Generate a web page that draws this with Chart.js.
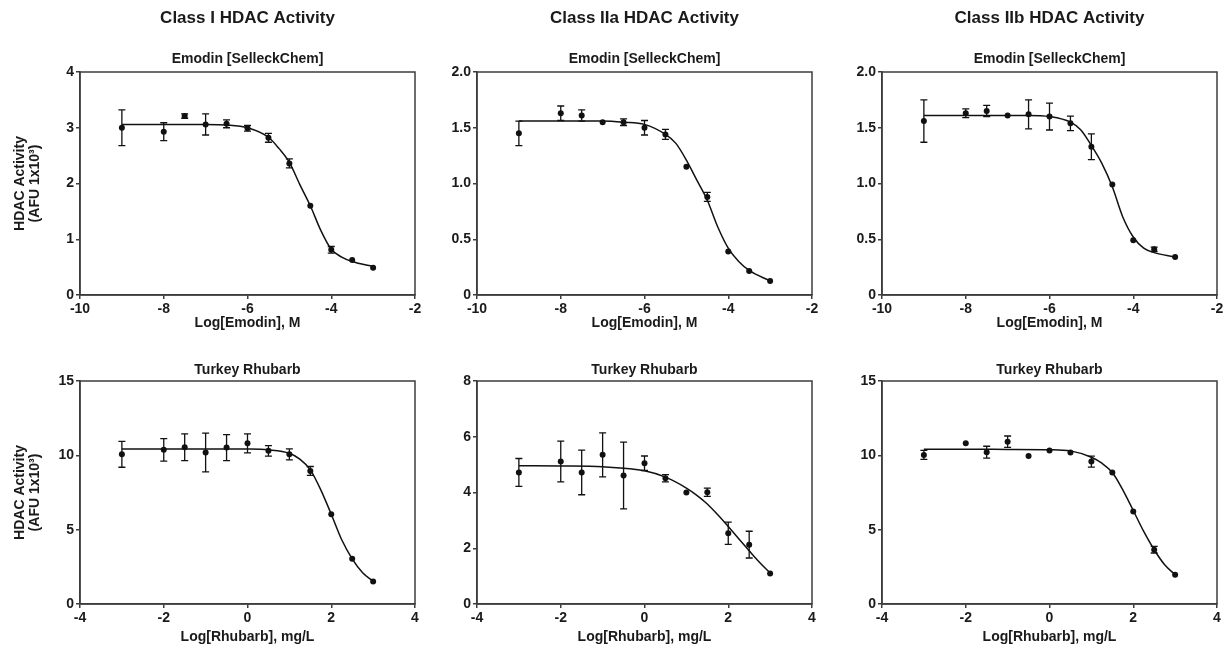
<!DOCTYPE html>
<html lang="en">
<head>
<meta charset="UTF-8">
<title>HDAC Activity</title>
<script src="https://cdn.jsdelivr.net/npm/chart.js"></script>
<style>
  body { margin: 0; background: #fff; }
  #wrap { position: relative; width: 1226px; height: 650px; overflow: hidden; }
  #wrap canvas { position: absolute; }
</style>
</head>
<body>
<div id="wrap">
  <canvas id="c00" width="430" height="340" style="left:0;top:0"></canvas>
  <canvas id="c01" width="420" height="340" style="left:410px;top:0"></canvas>
  <canvas id="c02" width="411" height="340" style="left:815px;top:0"></canvas>
  <canvas id="c10" width="430" height="310" style="left:0;top:340px"></canvas>
  <canvas id="c11" width="420" height="310" style="left:410px;top:340px"></canvas>
  <canvas id="c12" width="411" height="310" style="left:815px;top:340px"></canvas>
</div>

<script>
// texts
const colTitles = ["Class I HDAC Activity", "Class IIa HDAC Activity", "Class IIb HDAC Activity"];
const rowTitles = ["Emodin [SelleckChem]", "Turkey Rhubarb"];
const xTitles = ["Log[Emodin], M", "Log[Rhubarb], mg/L"];
const yTitle = ["HDAC Activity", "(AFU 1x10³)"];

// axis ranges
const xRanges = [[-10, -2], [-4, 4]];
const yMax = [[4, 2, 2], [15, 8, 15]];
const yStep = [[1, 0.5, 0.5], [5, 2, 5]];

// measured points (mean, SEM)
const xEmodin = [-9, -8, -7.5, -7, -6.5, -6, -5.5, -5, -4.5, -4, -3.5, -3];
const emodinI = [3.00, 2.93, 3.21, 3.06, 3.07, 2.99, 2.82, 2.36, 1.60, 0.81, 0.63, 0.49];
const emodinIErr = [0.32, 0.16, 0.04, 0.19, 0.07, 0.05, 0.08, 0.08, 0, 0.06, 0, 0];
const emodinIIa = [1.45, 1.63, 1.61, 1.55, 1.55, 1.50, 1.44, 1.15, 0.88, 0.39, 0.215, 0.125];
const emodinIIaErr = [0.11, 0.065, 0.05, 0, 0.03, 0.065, 0.045, 0, 0.04, 0, 0, 0];
const emodinIIb = [1.56, 1.63, 1.65, 1.61, 1.62, 1.60, 1.54, 1.33, 0.99, 0.49, 0.41, 0.34];
const emodinIIbErr = [0.19, 0.04, 0.05, 0, 0.13, 0.12, 0.065, 0.115, 0, 0, 0.02, 0];

const xRhubarb = [-3, -2, -1.5, -1, -0.5, 0, 0.5, 1, 1.5, 2, 2.5, 3];
const rhubarbI = [10.07, 10.37, 10.54, 10.19, 10.52, 10.81, 10.30, 10.07, 8.95, 6.04, 3.04, 1.52];
const rhubarbIErr = [0.87, 0.76, 0.9, 1.3, 0.87, 0.64, 0.35, 0.37, 0.3, 0, 0, 0];
const rhubarbIIa = [4.72, 5.11, 4.72, 5.35, 4.61, 5.05, 4.51, 4.00, 4.01, 2.54, 2.13, 1.09];
const rhubarbIIaErr = [0.5, 0.73, 0.8, 0.79, 1.2, 0.26, 0.13, 0, 0.15, 0.4, 0.48, 0];
const rhubarbIIb = [10.03, 10.81, 10.21, 10.92, 9.96, 10.32, 10.19, 9.58, 8.84, 6.22, 3.65, 1.97];
const rhubarbIIbErr = [0.3, 0, 0.4, 0.38, 0, 0, 0, 0.37, 0, 0, 0.22, 0];

// fitted curves
const xEmodinFit = [-9, -8, -7, -6.5, -6, -5.5, -5.25, -5, -4.75, -4.5, -4.25, -4, -3.75, -3.5, -3];
const fitEmodinI = [3.06, 3.06, 3.06, 3.05, 3.00, 2.83, 2.63, 2.38, 1.98, 1.60, 1.16, 0.82, 0.68, 0.60, 0.51];
const fitEmodinIIa = [1.56, 1.56, 1.56, 1.55, 1.53, 1.44, 1.36, 1.21, 1.03, 0.85, 0.61, 0.42, 0.30, 0.22, 0.125];
const fitEmodinIIb = [1.61, 1.61, 1.61, 1.61, 1.60, 1.55, 1.48, 1.34, 1.18, 0.97, 0.70, 0.52, 0.42, 0.38, 0.34];
const xRhubarbFit = [-3, -2, -1, 0, 0.5, 1, 1.25, 1.5, 1.75, 2, 2.25, 2.5, 2.75, 3];
const fitRhubarbI = [10.43, 10.43, 10.43, 10.42, 10.37, 10.14, 9.74, 9.02, 7.68, 6.04, 4.32, 3.04, 2.10, 1.52];
const fitRhubarbIIa = [4.96, 4.95, 4.92, 4.78, 4.55, 4.16, 3.90, 3.59, 3.20, 2.78, 2.34, 1.91, 1.49, 1.11];
const fitRhubarbIIb = [10.41, 10.41, 10.40, 10.38, 10.30, 9.87, 9.47, 8.84, 7.68, 6.29, 4.88, 3.65, 2.64, 1.97];

// layout per column / row
const yAxisWidth = [80, 67, 67];
const padRight = [15, 18, 9];
const xAxisHeight = [36.4, 41.9];
const padBottom = [8.6, 4.1];
const subPad = [{ top: 22.7, bottom: 4.1 }, { top: 21.6, bottom: 2.6 }];

const ink = "#111";
const axisGrey = "#3c3c3c";
Chart.defaults.font.family = "'Liberation Sans', Arial, sans-serif";
Chart.defaults.color = "#1a1a1a";

const errorBars = {
  id: "errorBars",
  afterDatasetsDraw(chart) {
    const { ctx, scales: { x, y } } = chart;
    ctx.save();
    ctx.strokeStyle = ink;
    ctx.lineWidth = 1.3;
    chart.data.datasets.forEach(ds => {
      if (!ds.errors) return;
      ds.data.forEach((p, i) => {
        const e = ds.errors[i];
        if (!e) return;
        const px = x.getPixelForValue(p.x);
        const y1 = y.getPixelForValue(p.y + e);
        const y2 = y.getPixelForValue(p.y - e);
        ctx.beginPath();
        ctx.moveTo(px, y1); ctx.lineTo(px, y2);
        ctx.moveTo(px - 3.5, y1); ctx.lineTo(px + 3.5, y1);
        ctx.moveTo(px - 3.5, y2); ctx.lineTo(px + 3.5, y2);
        ctx.stroke();
      });
    });
    ctx.restore();
  }
};

const frame = {
  id: "frame",
  afterDraw(chart) {
    const { ctx, chartArea: a } = chart;
    ctx.save();
    ctx.strokeStyle = axisGrey;
    ctx.lineWidth = 1.5;
    ctx.strokeRect(a.left, a.top, a.right - a.left, a.bottom - a.top);
    ctx.restore();
  }
};

function makePanel(row, col, xs, ys, errs, fitX, fitY) {
  const bold = size => ({ size, weight: "bold" });
  new Chart(document.getElementById("c" + row + col), {
    type: "scatter",
    data: {
      datasets: [
        {
          data: fitX.map((x, i) => ({ x, y: fitY[i] })),
          showLine: true,
          borderColor: ink,
          borderWidth: 1.5,
          pointRadius: 0,
          cubicInterpolationMode: "monotone",
          order: 2
        },
        {
          data: xs.map((x, i) => ({ x, y: ys[i] })),
          errors: errs,
          pointRadius: 3,
          backgroundColor: ink,
          borderColor: ink,
          borderWidth: 0,
          order: 1
        }
      ]
    },
    options: {
      responsive: false,
      animation: false,
      layout: { padding: { top: 0, left: 0, right: padRight[col], bottom: padBottom[row] } },
      plugins: {
        legend: { display: false },
        tooltip: { enabled: false },
        title: {
          display: row === 0,
          text: colTitles[col],
          fullSize: false,
          font: bold(17),
          padding: { top: 8, bottom: 0 }
        },
        subtitle: {
          display: true,
          text: rowTitles[row],
          fullSize: false,
          font: bold(14),
          padding: subPad[row]
        }
      },
      scales: {
        x: {
          type: "linear",
          min: xRanges[row][0],
          max: xRanges[row][1],
          ticks: { stepSize: 2, padding: 2, font: bold(14), maxRotation: 0 },
          grid: { drawOnChartArea: false, tickLength: 4, color: axisGrey, lineWidth: 1.5 },
          border: { color: axisGrey, width: 1.5 },
          title: { display: true, text: xTitles[row], font: bold(14), padding: { top: 0, bottom: 0 } },
          afterFit: s => { s.height = xAxisHeight[row]; }
        },
        y: {
          min: 0,
          max: yMax[row][col],
          ticks: {
            stepSize: yStep[row][col],
            padding: 2,
            font: bold(14),
            callback: v => (v === 0 ? "0" : yStep[row][col] < 1 ? v.toFixed(1) : String(v))
          },
          grid: { drawOnChartArea: false, tickLength: 4, color: axisGrey, lineWidth: 1.5 },
          border: { color: axisGrey, width: 1.5 },
          title: {
            display: col === 0,
            text: yTitle,
            font: { size: 14, weight: "bold", lineHeight: 1.1 },
            padding: { top: 12.3, bottom: 0 }
          },
          afterFit: s => { s.width = yAxisWidth[col]; }
        }
      }
    },
    plugins: [errorBars, frame]
  });
}

makePanel(0, 0, xEmodin, emodinI, emodinIErr, xEmodinFit, fitEmodinI);
makePanel(0, 1, xEmodin, emodinIIa, emodinIIaErr, xEmodinFit, fitEmodinIIa);
makePanel(0, 2, xEmodin, emodinIIb, emodinIIbErr, xEmodinFit, fitEmodinIIb);
makePanel(1, 0, xRhubarb, rhubarbI, rhubarbIErr, xRhubarbFit, fitRhubarbI);
makePanel(1, 1, xRhubarb, rhubarbIIa, rhubarbIIaErr, xRhubarbFit, fitRhubarbIIa);
makePanel(1, 2, xRhubarb, rhubarbIIb, rhubarbIIbErr, xRhubarbFit, fitRhubarbIIb);
</script>
</body>
</html>
